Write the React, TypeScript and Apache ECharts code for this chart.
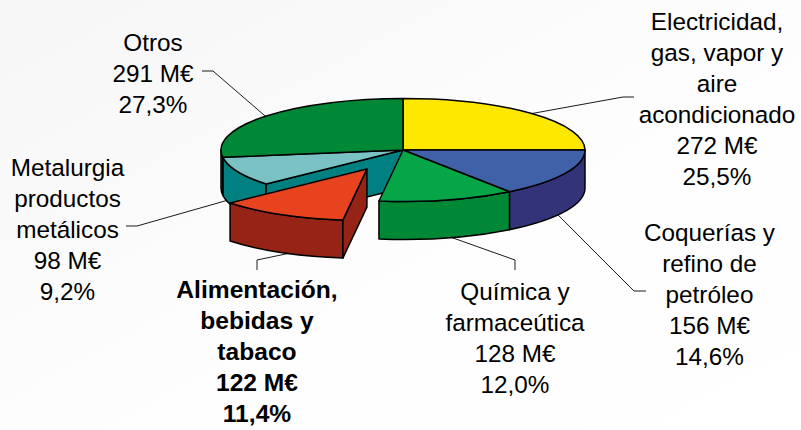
import React, { useEffect, useRef } from "react";
import * as echarts from "echarts";

// ---- data ----
const sectors = [
  ["Electricidad,", "gas, vapor y", "aire", "acondicionado"],
  ["Coquerías y", "refino de", "petróleo"],
  ["Química y", "farmaceútica"],
  ["Alimentación,", "bebidas y", "tabaco"],
  ["Metalurgia", "productos", "metálicos"],
  ["Otros"],
];
const valuesMEur = [272, 156, 128, 122, 98, 291];
const shares = ["25,5%", "14,6%", "12,0%", "11,4%", "9,2%", "27,3%"];

// ---- styles and layout ----
const topColors = ["#FFE800", "#4060A8", "#06A648", "#E8431F", "#7AC2C3", "#008837"];
const sideColors = ["#8F8200", "#33337A", "#008837", "#952316", "#008080", "#004F20"];
const explode = [0, 0, 0, 0.42, 0, 0];
const labelCenters = [
  [717, 99],
  [709.5, 294],
  [515, 338],
  [257, 351],
  [67.5, 229],
  [153, 73.5],
];
const leaderDrop = [0, 1, 1, 1, 0.68, 0];
const leaderAngleShift = [0, 4.5, -1.5, -2.5, 0, 0];
const leaderTails = [
  [[623, 97], [634, 97]],
  [[634, 291], [646, 291]],
  [[515, 260], [515, 270]],
  [[257, 260], [257, 270]],
  [[137, 226], [126, 226]],
  [[213, 71], [202, 71]],
];
const CX = 403;
const CY = 150;
const RX = 182;
const RY = 51.5;
const DEPTH = 38;
const START = -90;
const FONT = '"Liberation Sans", Arial, sans-serif';
const FONT_SIZE = 24.3;
const BOLD_FONT_SIZE = 24.6;
const LINE_HEIGHT = 31;
const BOLD_INDEX = 3;
const EDGE = { stroke: "#000", lineWidth: 1.5, lineJoin: "round" };

const total = valuesMEur.reduce((a, b) => a + b, 0);
const rad = (d: number) => (d * Math.PI) / 180;
// the reference's slight perspective pulls the rim near the right-hand extreme round a little
const warp = (t: number) => t - 1.8 * Math.pow(Math.max(0, Math.cos(rad(t))), 4);

function renderItem(params: any, api: any) {
  const i = params.dataIndex;
  const value = api.value(0);
  let raw0 = START;
  for (let k = 0; k < i; k++) raw0 += (valuesMEur[k] / total) * 360;
  const raw1 = raw0 + (value / total) * 360;
  const a0 = warp(raw0);
  const a1 = warp(raw1);
  const mid = (a0 + a1) / 2;
  const ox = CX + explode[i] * RX * Math.cos(rad(mid));
  const oy = CY + explode[i] * RY * Math.sin(rad(mid));
  const px = (t: number) => ox + RX * Math.cos(rad(t));
  const py = (t: number, d = 0) => oy + RY * Math.sin(rad(t)) + d;
  const base = explode[i] > 0 ? 3 : 1;
  const children: any[] = [];

  // outer wall: only the front half of the rim can be seen
  const w0 = Math.max(a0, 0);
  const w1 = Math.min(a1, 180);
  if (w1 > w0 + 1e-6) {
    children.push({
      type: "path",
      z2: base,
      shape: {
        pathData:
          `M${px(w0)} ${py(w0)} A${RX} ${RY} 0 0 1 ${px(w1)} ${py(w1)} ` +
          `L${px(w1)} ${py(w1, DEPTH)} A${RX} ${RY} 0 0 0 ${px(w0)} ${py(w0, DEPTH)} Z`,
      },
      style: { fill: sideColors[i], ...EDGE },
    });
  }
  // cut faces of the hole left by the exploded slice
  const neighbourOut = (k: number) => explode[(k + valuesMEur.length) % valuesMEur.length] > 0;
  const cutAngles: number[] = [];
  if (explode[i] > 0) cutAngles.push(a0);
  if (neighbourOut(i - 1) && explode[i] === 0) cutAngles.push(a0);
  cutAngles.forEach((t) => {
    children.push({
      type: "path",
      z2: base,
      shape: {
        pathData:
          `M${ox} ${oy} L${px(t)} ${py(t)} L${px(t)} ${py(t, DEPTH)} L${ox} ${oy + DEPTH} Z`,
      },
      style: { fill: sideColors[i], ...EDGE },
    });
  });
  // top face
  const large = a1 - a0 > 180 ? 1 : 0;
  children.push({
    type: "path",
    z2: base + 1,
    shape: {
      pathData: `M${ox} ${oy} L${px(a0)} ${py(a0)} A${RX} ${RY} 0 ${large} 1 ${px(a1)} ${py(a1)} Z`,
    },
    style: { fill: topColors[i], ...EDGE },
  });
  // leader line, behind the pie
  const leaderAngle = mid + leaderAngleShift[i];
  children.push({
    type: "polyline",
    z2: 0,
    shape: {
      points: [[px(leaderAngle), py(leaderAngle, DEPTH * leaderDrop[i])], ...leaderTails[i]],
    },
    style: { fill: "none", stroke: "#1a1a1a", lineWidth: 1 },
  });
  // label
  const lines = [...sectors[i], `${value} M€`, shares[i]];
  const isBold = i === BOLD_INDEX;
  children.push({
    type: "text",
    z2: 10,
    style: {
      text: lines.join("\n"),
      x: labelCenters[i][0],
      y: labelCenters[i][1],
      align: "center",
      verticalAlign: "middle",
      fill: "#000",
      font: `${isBold ? "bold " : ""}${isBold ? BOLD_FONT_SIZE : FONT_SIZE}px ${FONT}`,
      lineHeight: LINE_HEIGHT,
    },
  });
  return { type: "group", children };
}

export default function App() {
  const ref = useRef<HTMLDivElement>(null);
  useEffect(() => {
    const chart = echarts.init(ref.current!, undefined, { renderer: "svg" });
    chart.setOption({
      animation: false,
      backgroundColor: {
        type: "linear",
        x: 0,
        y: 0,
        x2: 1,
        y2: 1,
        colorStops: [
          { offset: 0, color: "#f6f6f6" },
          { offset: 0.6, color: "#fefefe" },
          { offset: 1, color: "#ffffff" },
        ],
      },
      series: [
        {
          type: "custom",
          coordinateSystem: "none",
          silent: true,
          clip: false,
          renderItem,
          data: valuesMEur.map((v) => [v]),
        },
      ],
    });
    return () => chart.dispose();
  }, []);
  return (
    <div
      ref={ref}
      style={{ position: "absolute", left: 0, top: 0, width: 801, height: 430 }}
    />
  );
}
